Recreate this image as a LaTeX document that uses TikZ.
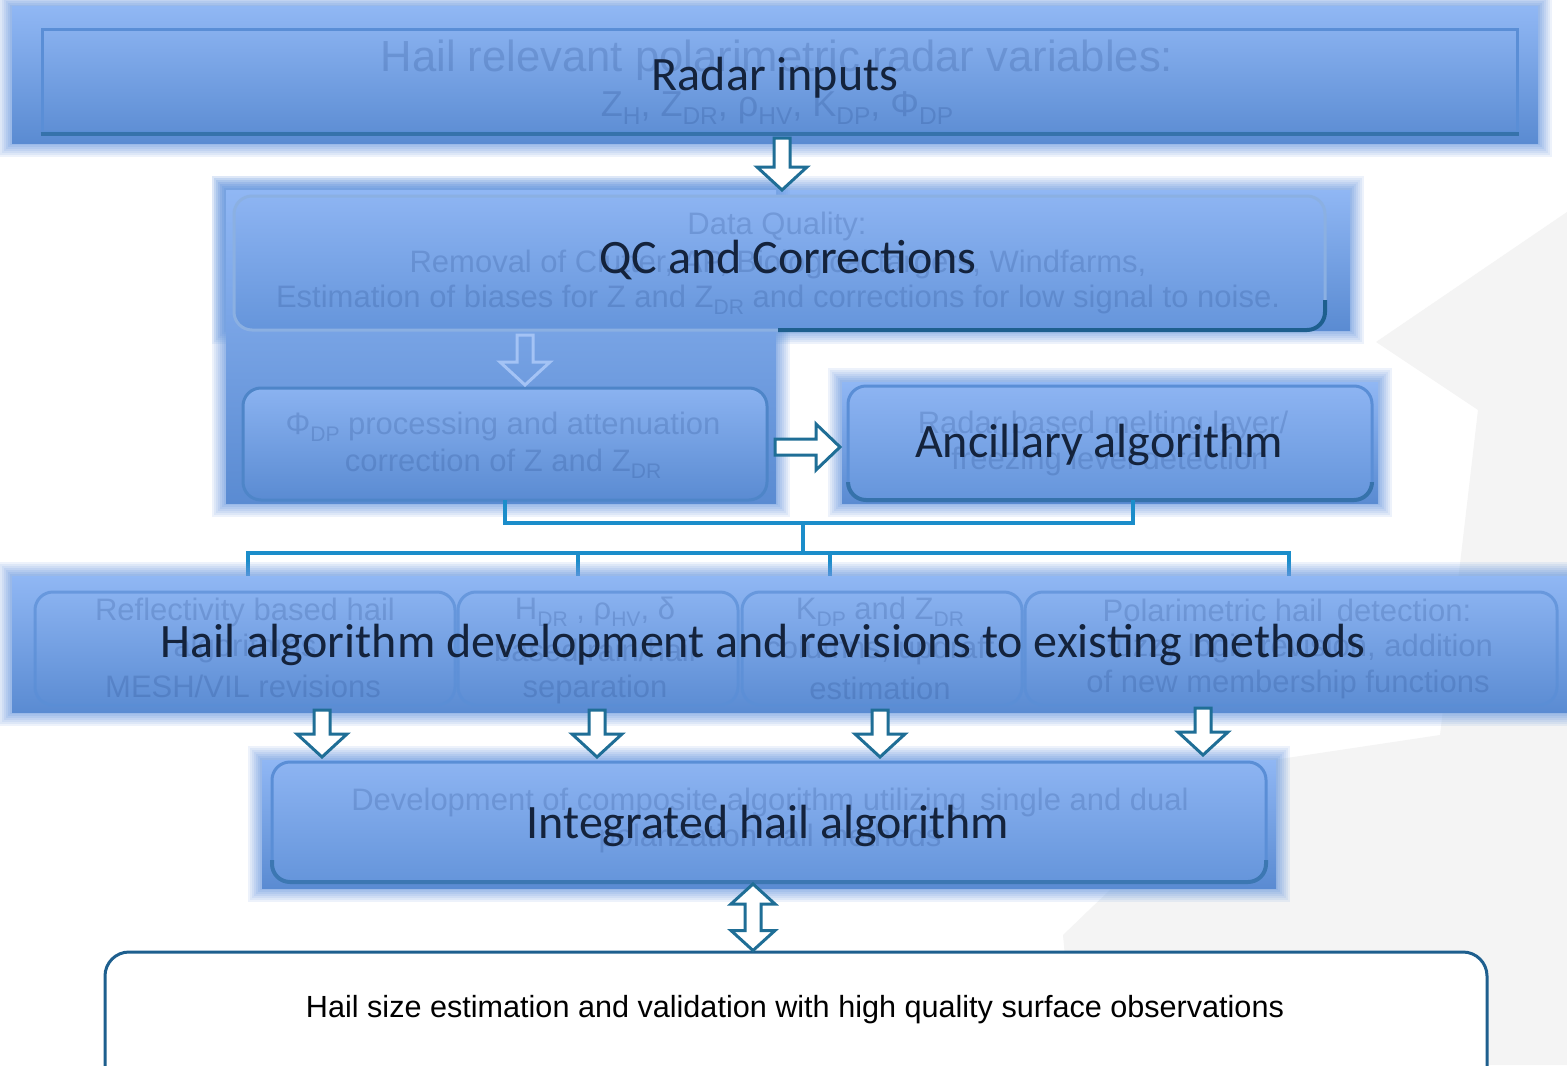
\documentclass[tikz,border=0pt]{standalone}
\usepackage{graphicx}
\usepackage{fontspec}
\setmainfont{Carlito}
\newfontfamily\arialf{Liberation Sans}
\usetikzlibrary{fit,calc}
\definecolor{bandtop}{HTML}{90B7F4}
\definecolor{bandbot}{HTML}{5A8BD2}
\definecolor{boxtop}{HTML}{8DB4F2}
\definecolor{boxbot}{HTML}{6595DB}
\definecolor{glowc}{HTML}{6C9CE0}
\definecolor{fainttext}{HTML}{1D3F80}
\definecolor{navy}{HTML}{14233C}
\definecolor{arrowc}{HTML}{1F6E96}
\definecolor{linkc}{HTML}{1B8DCA}
\definecolor{boxline}{HTML}{5A8ED6}
\definecolor{darkline}{HTML}{1E5F8E}
\definecolor{bggrey}{HTML}{F4F4F4}
\newcommand\lsub[1]{\raisebox{-0.45ex}{\scalebox{0.68}{#1}}}
\newcommand\downblock[3][blockarr]{%
  \draw[#1] let \p1=#2, \p2=#3 in
   (\x1-4pt,\y1) -- (\x1+4pt,\y1) -- (\x1+4pt,\y2+11.5pt) -- (\x1+12.5pt,\y2+11.5pt)
   -- (\x1,\y2) -- (\x1-12.5pt,\y2+11.5pt) -- (\x1-4pt,\y2+11.5pt) -- cycle;}
\newcommand\rightblock[3][blockarr]{%
  \draw[#1] let \p1=#2, \p2=#3 in
   (\x1,\y1+4pt) -- (\x1,\y1-4pt) -- (\x2-12pt,\y1-4pt) -- (\x2-12pt,\y1-11.5pt)
   -- (\x2,\y1) -- (\x2-12pt,\y1+11.5pt) -- (\x2-12pt,\y1+4pt) -- cycle;}
\newcommand\dblblock[3][blockarr]{%
  \draw[#1] let \p1=#2, \p2=#3 in
   (\x1,\y1) -- (\x1+11pt,\y1-10pt) -- (\x1+4pt,\y1-10pt) -- (\x1+4pt,\y2+10pt)
   -- (\x1+11pt,\y2+10pt) -- (\x1,\y2) -- (\x1-11pt,\y2+10pt) -- (\x1-4pt,\y2+10pt)
   -- (\x1-4pt,\y1-10pt) -- (\x1-11pt,\y1-10pt) -- cycle;}
\tikzset{
  band/.style={inner sep=0, outer sep=0, top color=bandtop, bottom color=bandbot, draw=none,
    preaction={draw=glowc, draw opacity=0.12, line width=14pt},
    preaction={draw=glowc, draw opacity=0.12, line width=12pt},
    preaction={draw=glowc, draw opacity=0.12, line width=10pt},
    preaction={draw=glowc, draw opacity=0.14, line width=8pt},
    preaction={draw=glowc, draw opacity=0.16, line width=6pt},
    preaction={draw=glowc, draw opacity=0.18, line width=4pt},
    preaction={draw=glowc, draw opacity=0.2, line width=2pt}},
  rbox/.style={inner sep=0, outer sep=0, rounded corners=9pt, top color=boxtop,
    bottom color=boxbot, draw=boxline, line width=1.5pt},
  subbox/.style={inner sep=0, outer sep=0, rounded corners=9pt, draw=boxline,
    draw opacity=0.7, line width=1.5pt},
  faintt/.style={text=fainttext, text opacity=0.2, inner sep=0, align=center,
    font=\arialf\fontsize{15.5}{18}\selectfont},
  mainlabel/.style={text=navy, inner sep=0, font=\fontsize{24}{28}\selectfont},
  blockarr/.style={draw=arrowc, line width=1.5pt, fill=white, line join=miter},
  faintarr/.style={draw=boxtop!80!white, line width=1.5pt, line join=miter},
  link/.style={draw=linkc, line width=2pt, line join=miter},
}
\begin{document}
\begin{tikzpicture}[x=0.5pt,y=-0.5pt]
\useasboundingbox (0,0) rectangle (1567,1065);
\fill[white] (0,0) rectangle (1567,1065);
\fill[bggrey] (1376,342) -- (1567,212) -- (1567,1065) -- (1075,1065) -- (1063,935)
  -- (1240,765) -- (1440,735) -- (1478,410) -- cycle;

% helper x positions
\foreach \xx in {248,578,830,1133,1289,322,597,880,1203,782,525,753}
  {\coordinate (c\xx) at (\xx,0);}
\coordinate (ytop) at (0,592);

% ---------- Radar inputs ----------
\node[band, fit={(12,7) (1538,143)}] (radarband) {};
\node[draw=boxline, line width=1.5pt, inner sep=0, fit={(42,30) (1517,132)}] (radarinner) {};
\draw[darkline!60!boxline, line width=2pt] (radarinner.south west) -- (radarinner.south east);
\node[faintt, font=\arialf\fontsize{21.8}{25}\selectfont] (rt1) at (777,60)
  {Hail relevant polarimetric radar variables:};
\node[faintt, font=\arialf\fontsize{18}{21}\selectfont] (rt2) at (777,108)
  {Z\lsub{H}, Z\lsub{DR}, ρ\lsub{HV}, K\lsub{DP}, Φ\lsub{DP}};
\node[mainlabel] (radarlbl) at (775,78) {Radar inputs};

% ---------- QC ----------
\node[band, fit={(226,190) (1350,330)}] (qcband) {};
\node[band, fit={(226,190) (776,503)}] (qcgroup) {};
\node[rbox, draw=boxline!70!white, fit={(234,196) (1325,330)}] (qc) {};
\begin{scope}
  \clip (778,300) rectangle (1400,345);
  \draw[darkline, line width=2pt, rounded corners=9pt] (234,196) rectangle (1325,330);
\end{scope}
\node[faintt] (qt1) at (777,226) {Data Quality:};
\node[faintt] (qt2) at (778,264) {Removal of Clutter, AP, Biological targets, Windfarms,};
\node[faintt] (qt3) at (778,300) {Estimation of biases for Z and Z\lsub{DR} and corrections for low signal to noise.};
\node[mainlabel] (qclbl) at (788,260) {QC and Corrections};

% ---------- Phi DP ----------
\node[rbox, top color=bandtop!90!bandbot, bottom color=bandbot, draw=boxline!80!darkline,
  fit={(243,388) (767,500)}] (phi) {};
\node[faintt] (pt1) at (503,427) {Φ\lsub{DP} processing and attenuation};
\node[faintt] (pt2) at (503,464) {correction of Z and Z\lsub{DR}};
\downblock[faintarr]{($(qc.south -| c525)+(0,5)$)}{($(phi.north -| c525)+(0,-3)$)}

% ---------- Ancillary ----------
\node[band, fit={(842,382) (1378,503)}] (ancband) {};
\node[rbox, fit={(848,386) (1372,500)}] (anc) {};
\begin{scope}
  \clip (840,482) rectangle (1390,510);
  \draw[darkline!60!boxline, line width=2pt, rounded corners=9pt] (848,386) rectangle (1372,500);
\end{scope}
\node[faintt] (at1) at (1103,425) {Radar based melting layer/};
\node[faintt] (at2) at (1110,461) {freezing level detection};
\node[mainlabel] (anclbl) at (1099,445) {Ancillary algorithm};
\rightblock{($(phi.east)+(8,3)$)}{($(anc.west)+(-8,3)$)}

% ---------- connectors ----------
\coordinate (jn) at (803,523);
\coordinate (bus) at (803,553);
\draw[link] (phi.south) |- (jn) -| (anc.south -| c1133);
\draw[link] (jn) -- (bus);
\draw[link] (c248 |- ytop) |- (bus) -| (c1289 |- ytop);
\draw[link] (bus -| c578) -- (c578 |- ytop);
\draw[link] (bus -| c830) -- (c830 |- ytop);

% ---------- Hail row ----------
\node[band, fit={(12,576) (1567,712)}] (hailband) {};
\node[subbox, fit={(35,592) (455,705)}] (h1) {};
\node[subbox, fit={(458,592) (738,705)}] (h2) {};
\node[subbox, fit={(742,592) (1022,705)}] (h3) {};
\node[subbox, fit={(1025,592) (1557,705)}] (h4) {};
\node[faintt] (h1a) at (245,612) {Reflectivity based hail};
\node[faintt] (h1b) at (245,648) {algorithms};
\node[faintt] (h1c) at (243,686) {MESH/VIL revisions};
\node[faintt] (h2a) at (595,612) {H\lsub{DR} , ρ\lsub{HV}, δ};
\node[faintt] (h2b) at (595,650) {based rain/hail};
\node[faintt] (h2c) at (595,689) {separation};
\node[faintt] (h3a) at (880,612) {K\lsub{DP} and Z\lsub{DR}};
\node[faintt] (h3b) at (880,650) {columns, updraft};
\node[faintt] (h3c) at (880,688) {estimation};
\node[faintt] (h4a) at (1287,610) {Polarimetric hail\, detection:};
\node[faintt] (h4b) at (1300,648) {fuzzy logic revision, addition};
\node[faintt] (h4c) at (1288,684) {of new membership functions};
\node[mainlabel] (haillbl) at (763,645) {Hail algorithm development and revisions to existing methods};

% ---------- Integrated ----------
\node[band, fit={(262,760) (1276,888)}] (intband) {};
\node[rbox, fit={(272,762) (1266,882)}] (int) {};
\begin{scope}
  \clip (250,860) rectangle (1290,900);
  \draw[darkline!50!boxline, line width=2pt, rounded corners=9pt] (272,762) rectangle (1266,882);
\end{scope}
\node[faintt] (it1) at (770,802) {Development of composite algorithm utilizing\, single and dual};
\node[faintt] (it2) at (770,838) {polarization hail methods};
\node[mainlabel] (intlbl) at (768,826) {Integrated hail algorithm};

% ---------- Bottom ----------
\node[inner sep=0, rounded corners=12pt, fill=white, draw=darkline, line width=1.5pt,
  fit={(105,952) (1487,1090)}] (val) {};
\node[inner sep=0, text=black, font=\arialf\fontsize{15.3}{18}\selectfont] (vallbl) at (795,1010)
  {Hail size estimation and validation with high quality surface observations};

% ---------- block arrows ----------
\downblock{($(radarband.south -| c782)+(0,-5)$)}{(qcband.north -| c782)}
\downblock{($(hailband.south -| c322)+(0,-2)$)}{($(int.north -| c322)+(0,-5)$)}
\downblock{($(hailband.south -| c597)+(0,-2)$)}{($(int.north -| c597)+(0,-5)$)}
\downblock{($(hailband.south -| c880)+(0,-2)$)}{($(int.north -| c880)+(0,-5)$)}
\downblock{($(hailband.south -| c1203)+(0,-4)$)}{($(int.north -| c1203)+(0,-7)$)}
\dblblock{($(int.south -| c753)+(0,2)$)}{(val.north -| c753)}
\end{tikzpicture}
\end{document}
